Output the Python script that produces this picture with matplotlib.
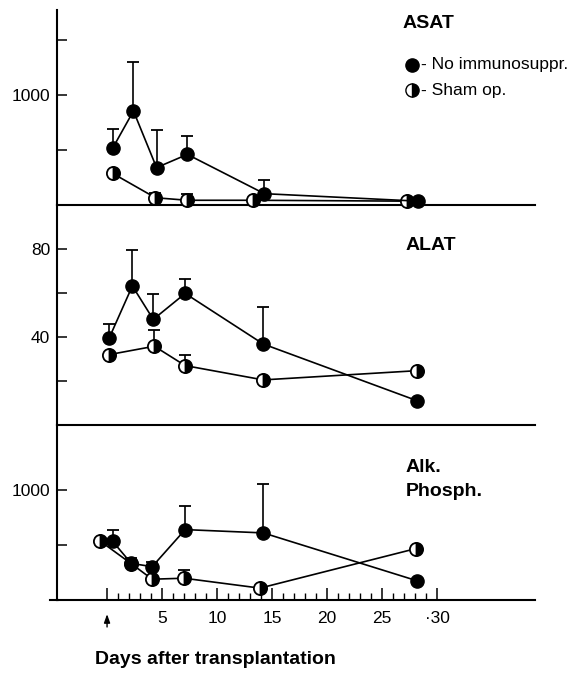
import matplotlib
matplotlib.use("Agg")
import matplotlib.pyplot as plt
import numpy as np
from matplotlib.ticker import FixedLocator

plt.rcParams['font.family'] = ['Liberation Sans', 'DejaVu Sans']

# ASAT (U/l)
asat_days_no = [0.5, 2.4, 4.5, 7.3, 14.3, 28.3]
asat_no = [515, 855, 340, 460, 103, 35]
asat_no_err = [180, 445, 340, 170, 127, 0]
asat_days_sham = [0.5, 4.4, 7.3, 13.3, 27.3]
asat_sham = [288, 66, 43, 43, 35]
asat_sham_err = [0, 46, 54, 0, 0]

# ALAT (U/l)
alat_days_no = [0.2, 2.3, 4.2, 7.1, 14.2, 28.2]
alat_no = [39.6, 63.2, 48, 59.8, 36.8, 11]
alat_no_err = [6.1, 16.4, 11.7, 6.4, 16.8, 0]
alat_days_sham = [0.2, 4.3, 7.1, 14.2, 28.2]
alat_sham = [32, 35.8, 27, 20.5, 24.7]
alat_sham_err = [0, 7.2, 4.7, 0, 0]

# Alkaline phosphatase (U/l)
alp_days_no = [0.5, 2.2, 4.1, 7.1, 14.2, 28.2]
alp_no = [534, 333, 303, 640, 610, 174]
alp_no_err = [99, 52, 46, 219, 444, 0]
alp_days_sham = [-0.6, 2.2, 4.1, 7.0, 13.9, 28.1]
alp_sham = [534, 330, 189, 198, 108, 468]
alp_sham_err = [0, 0, 0, 75, 0, 0]

day_ticks = [0, 5, 10, 15, 20, 25, 30]
day_labels = ['', '5', '10', '15', '20', '25', '\u00b730']
minor_days = [d for d in range(1, 30) if d % 5]

W, H = 572, 673
fig = plt.figure(figsize=(W / 100, H / 100), dpi=100)

def px_axes(top, bottom):
    left, right = 57, 535
    return fig.add_axes([left / W, 1 - bottom / H, (right - left) / W, (bottom - top) / H])

ax1 = px_axes(10, 205)
ax2 = px_axes(205, 425)
ax3 = px_axes(425, 600)

def draw(ax, dn, yn, en, ds, ys, es):
    ax.errorbar(dn, yn, yerr=[np.zeros(len(en)), en], fmt='none', ecolor='black',
                elinewidth=1.2, capsize=4, capthick=1.3, zorder=2, clip_on=False)
    ax.errorbar(ds, ys, yerr=[np.zeros(len(es)), es], fmt='none', ecolor='black',
                elinewidth=1.2, capsize=4, capthick=1.3, zorder=2, clip_on=False)
    ax.plot(ds, ys, '-o', color='black', lw=1.2, ms=9.5, fillstyle='right',
            markerfacecolor='black', markerfacecoloralt='white',
            markeredgecolor='black', markeredgewidth=1.3, zorder=3, clip_on=False)
    ax.plot(dn, yn, '-o', color='black', lw=1.2, ms=9.5, markerfacecolor='black',
            markeredgecolor='black', zorder=4, clip_on=False)

draw(ax1, asat_days_no, asat_no, asat_no_err, asat_days_sham, asat_sham, asat_sham_err)
draw(ax2, alat_days_no, alat_no, alat_no_err, alat_days_sham, alat_sham, alat_sham_err)
draw(ax3, alp_days_no, alp_no, alp_no_err, alp_days_sham, alp_sham, alp_sham_err)

ax1.set_ylim(0, 1773)
ax1.set_yticks([500, 1000, 1500])
ax1.set_yticklabels(['', '1000', ''])
ax2.set_ylim(0, 100)
ax2.set_yticks([20, 40, 60, 80])
ax2.set_yticklabels(['', '40', '', '80'])
ax3.set_ylim(0, 1591)
ax3.set_yticks([500, 1000])
ax3.set_yticklabels(['', '1000'])

for ax in (ax1, ax2, ax3):
    ax.set_xlim(-4.55, 38.9)
    ax.spines['top'].set_visible(False)
    ax.spines['right'].set_visible(False)
    ax.spines['left'].set_linewidth(1.5)
    ax.spines['bottom'].set_linewidth(1.5)
    ax.patch.set_alpha(0)
    ax.tick_params(axis='y', direction='in', length=7, width=1.1, labelsize=12.5, pad=5)
    ax.tick_params(axis='x', which='both', bottom=False, labelbottom=False)

ax3.set_xticks(day_ticks)
ax3.set_xticklabels(day_labels)
ax3.xaxis.set_minor_locator(FixedLocator(minor_days))
ax3.tick_params(axis='x', which='major', bottom=True, labelbottom=True, direction='in',
                length=9, width=1.1, labelsize=12.5, pad=8)
ax3.tick_params(axis='x', which='minor', bottom=True, direction='in', length=5, width=1.0)

# short overhang of the bottom axis line left of the y axis
fig.lines.append(plt.Line2D([50 / W, 58 / W], [1 - 600 / H, 1 - 600 / H], lw=1.5,
                            color='black', transform=fig.transFigure, figure=fig))

# arrow marking the day of transplantation
ax3.annotate('', xy=(0, -0.065), xytext=(0, -0.17),
             xycoords=('data', 'axes fraction'), textcoords=('data', 'axes fraction'),
             arrowprops=dict(arrowstyle='-|>,head_width=0.18,head_length=0.5',
                             color='black', lw=1.0), annotation_clip=False)

# panel titles
fig.text(403 / W, 1 - 23 / H, 'ASAT', fontsize=14, fontweight='bold', ha='left', va='center')
fig.text(406 / W, 1 - 245 / H, 'ALAT', fontsize=14, fontweight='bold', ha='left', va='center')
fig.text(406 / W, 1 - 468 / H, 'Alk.', fontsize=14, fontweight='bold', ha='left', va='center')
fig.text(406 / W, 1 - 491 / H, 'Phosph.', fontsize=14, fontweight='bold', ha='left', va='center')

# legend
for y, fs, label in [(65, 'full', '- No immunosuppr.'), (90, 'right', '- Sham op.')]:
    fig.lines.append(plt.Line2D([412 / W], [1 - y / H], marker='o', ms=9.5, color='black',
                                fillstyle=fs, markerfacecolor='black',
                                markerfacecoloralt='white', markeredgecolor='black',
                                transform=fig.transFigure, figure=fig))
    fig.text(421 / W, 1 - y / H, label, fontsize=12.5, ha='left', va='center')

fig.text(215 / W, 1 - 660 / H, 'Days after transplantation', fontsize=14,
         fontweight='bold', ha='center', va='center')

fig.savefig('out.png', dpi=100, facecolor='white')
